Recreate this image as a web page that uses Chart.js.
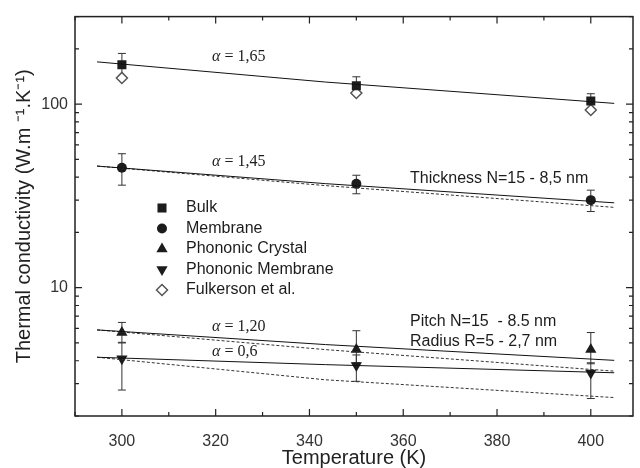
<!DOCTYPE html>
<html lang="en">
<head>
<meta charset="UTF-8">
<title>Thermal conductivity vs temperature</title>
<script src="https://cdn.jsdelivr.net/npm/chart.js"></script>
<style>
    html, body { margin: 0; padding: 0; background: #fff; }
</style>
</head>
<body>
<canvas id="myChart" width="640" height="468"></canvas>

<script>
    // measured points (K, W/m/K) and their error bar ends
    var temps = [300, 350, 400];
    var bulk = [164, 126, 104];
    var bulkHi = [189, 141, 114];
    var bulkLo = [139, 114, 93];
    var membrane = [45, 36.8, 30];
    var membraneHi = [53.7, 41, 34];
    var membraneLo = [36.2, 32.5, 26];
    var crystal = [5.7, 4.6, 4.6];
    var crystalHi = [6.47, 5.83, 5.7];
    var crystalLo = [5.04, 3.9, 3.85];
    var phonMembrane = [4.1, 3.77, 3.43];
    var phonMembraneHi = [5.0, 4.3, 3.9];
    var phonMembraneLo = [2.77, 3.09, 2.49];
    var fulkerson = [139, 115, 93];

    // fitted lines, read at start / middle / end of each drawn line
    var fitT = [294.7, 343.4, 405];
    var fitBulk = [170, 132, 101];
    var fitMembrane = [46, 36.9, 29.0];
    var fitMembraneDash = [46, 36.0, 27.4];
    var fitCrystal = [5.89, 4.9, 4.02];
    var fitCrystalDash = [5.89, 4.6, 3.51];
    var fitPhonMembrane = [4.18, 3.81, 3.44];
    var fitPhonMembraneDash = [4.18, 3.15, 2.52];

    var xTicks = [300, 320, 340, 360, 380, 400];
    var xMinor = [290, 310, 330, 350, 370, 390];
    var yTicks = [10, 100];
    var yMinor = [2, 3, 4, 5, 6, 7, 8, 9, 20, 30, 40, 50, 60, 70, 80, 90, 200, 300];

    var INK = '#1c1c1c';
    var SANS = '"Liberation Sans", Arial, sans-serif';
    var SERIF = '"Liberation Serif", "Times New Roman", serif';

    function pts(xs, ys) {
        return xs.map(function (x, i) { return { x: x, y: ys[i] }; });
    }

    function markers(label, ys, hi, lo, style, extra) {
        var ds = {
            label: label,
            data: pts(temps, ys),
            errHi: hi,
            errLo: lo,
            showLine: false,
            pointStyle: style,
            pointRadius: 5.5,
            backgroundColor: INK,
            borderColor: INK,
            borderWidth: 0,
            inLegend: true
        };
        return Object.assign(ds, extra || {});
    }

    function fit(ys, dashed) {
        return {
            label: '',
            data: pts(fitT, ys),
            showLine: true,
            pointRadius: 0,
            borderColor: dashed ? '#333' : '#111',
            borderWidth: 1,
            borderDash: dashed ? [3, 2] : [],
            inLegend: false
        };
    }

    // error bars under the markers
    var errorBars = {
        id: 'errorBars',
        beforeDatasetsDraw: function (chart) {
            var ctx = chart.ctx, xs = chart.scales.x, ys = chart.scales.y;
            ctx.save();
            ctx.strokeStyle = '#333';
            ctx.lineWidth = 1;
            chart.data.datasets.forEach(function (ds) {
                if (!ds.errHi) return;
                ds.data.forEach(function (p, i) {
                    var px = xs.getPixelForValue(p.x);
                    var top = ys.getPixelForValue(ds.errHi[i]);
                    var bot = ys.getPixelForValue(ds.errLo[i]);
                    ctx.beginPath();
                    ctx.moveTo(px, top); ctx.lineTo(px, bot);
                    ctx.moveTo(px - 4, top); ctx.lineTo(px + 4, top);
                    ctx.moveTo(px - 4, bot); ctx.lineTo(px + 4, bot);
                    ctx.stroke();
                });
            });
            ctx.restore();
        }
    };

    // box with inward ticks on all four sides
    var frame = {
        id: 'frame',
        afterDraw: function (chart) {
            var ctx = chart.ctx, a = chart.chartArea;
            var xs = chart.scales.x, ys = chart.scales.y;
            ctx.save();
            ctx.strokeStyle = '#222';
            ctx.lineWidth = 1.5;
            ctx.strokeRect(a.left, a.top, a.right - a.left, a.bottom - a.top);
            ctx.lineWidth = 1.2;
            ctx.beginPath();
            function xt(v, len) {
                var px = xs.getPixelForValue(v);
                ctx.moveTo(px, a.bottom); ctx.lineTo(px, a.bottom - len);
                ctx.moveTo(px, a.top); ctx.lineTo(px, a.top + len);
            }
            function yt(v, len) {
                var py = ys.getPixelForValue(v);
                ctx.moveTo(a.left, py); ctx.lineTo(a.left + len, py);
                ctx.moveTo(a.right, py); ctx.lineTo(a.right - len, py);
            }
            xTicks.forEach(function (v) { xt(v, 7); });
            xMinor.forEach(function (v) { xt(v, 4); });
            yTicks.forEach(function (v) { yt(v, 7); });
            yMinor.forEach(function (v) { yt(v, 4); });
            ctx.stroke();
            ctx.restore();
        }
    };

    // legend inside the plot and the text notes
    var notes = {
        id: 'notes',
        afterDatasetsDraw: function (chart) {
            var ctx = chart.ctx;
            ctx.save();
            ctx.fillStyle = INK;
            ctx.textBaseline = 'middle';

            var row = 0;
            chart.data.datasets.forEach(function (ds) {
                if (!ds.inLegend) return;
                var y = 208 + row * 20.5;
                var opts = {
                    pointStyle: ds.pointStyle,
                    radius: ds.pointRadius,
                    rotation: ds.rotation || 0,
                    borderWidth: ds.borderWidth
                };
                ctx.fillStyle = ds.backgroundColor;
                ctx.strokeStyle = ds.borderColor;
                ctx.lineWidth = ds.borderWidth;
                Chart.helpers.drawPoint(ctx, opts, 162, y);
                ctx.fillStyle = INK;
                ctx.font = '16px ' + SANS;
                ctx.fillText(ds.label, 186, y);
                row++;
            });

            function alpha(val, x, y) {
                ctx.font = 'italic 16px ' + SERIF;
                ctx.fillText('\u03b1', x, y);
                var w = ctx.measureText('\u03b1').width;
                ctx.font = '16px ' + SERIF;
                ctx.fillText(' = ' + val, x + w, y);
            }
            alpha('1,65', 212, 57);
            alpha('1,45', 212, 162);
            alpha('1,20', 212, 327);
            alpha('0,6', 212, 352);

            ctx.font = '16px ' + SANS;
            ctx.fillText('Thickness N=15 - 8,5 nm', 410, 179);
            ctx.fillText('Pitch N=15  - 8.5 nm', 410, 322);
            ctx.fillText('Radius R=5 - 2,7 nm', 410, 342);
            ctx.restore();
        }
    };

    var ctx = document.getElementById('myChart').getContext('2d');
    var chart = new Chart(ctx, {
        type: 'scatter',
        data: {
            datasets: [
                fit(fitBulk, false),
                fit(fitMembrane, false),
                fit(fitMembraneDash, true),
                fit(fitCrystal, false),
                fit(fitCrystalDash, true),
                fit(fitPhonMembrane, false),
                fit(fitPhonMembraneDash, true),
                markers('Bulk', bulk, bulkHi, bulkLo, 'rect', { pointRadius: 6.4 }),
                markers('Membrane', membrane, membraneHi, membraneLo, 'circle', { pointRadius: 5 }),
                markers('Phononic Crystal', crystal, crystalHi, crystalLo, 'triangle', { pointRadius: 6.5 }),
                markers('Phononic Membrane', phonMembrane, phonMembraneHi, phonMembraneLo, 'triangle', { pointRadius: 6.5, rotation: 180 }),
                markers('Fulkerson et al.', fulkerson, null, null, 'rectRot', {
                    pointRadius: 5.5, backgroundColor: '#fff', borderColor: '#555', borderWidth: 1.5
                })
            ]
        },
        options: {
            responsive: false,
            animation: false,
            devicePixelRatio: 1,
            layout: { padding: { top: 14, right: -2, bottom: 0, left: 0 } },
            plugins: {
                legend: { display: false },
                tooltip: { enabled: false }
            },
            scales: {
                x: {
                    type: 'linear',
                    min: 290,
                    max: 409,
                    afterBuildTicks: function (s) { s.ticks = xTicks.map(function (v) { return { value: v }; }); },
                    afterFit: function (s) { s.height = 52; },
                    grid: { display: false, drawTicks: false },
                    border: { display: false },
                    ticks: { color: '#333', padding: 16, font: { size: 16, family: SANS } },
                    title: {
                        display: true,
                        text: 'Temperature (K)',
                        color: '#222',
                        font: { size: 20, family: SANS, lineHeight: 1 },
                        padding: { top: 0, bottom: 0 }
                    }
                },
                y: {
                    type: 'logarithmic',
                    min: 2,
                    max: 300,
                    afterBuildTicks: function (s) { s.ticks = yTicks.map(function (v) { return { value: v }; }); },
                    afterFit: function (s) { s.width = 75; },
                    grid: { display: false, drawTicks: false },
                    border: { display: false },
                    ticks: {
                        color: '#333',
                        padding: 7,
                        font: { size: 16, family: SANS },
                        callback: function (v) { return String(v); }
                    },
                    title: {
                        display: true,
                        text: 'Thermal conductivity (W.m \u207b\u00b9.K\u207b\u00b9)',
                        color: '#222',
                        font: { size: 20, family: SANS, lineHeight: 1 },
                        padding: { top: 14, bottom: 0 }
                    }
                }
            }
        },
        plugins: [errorBars, frame, notes]
    });
</script>
</body>
</html>
